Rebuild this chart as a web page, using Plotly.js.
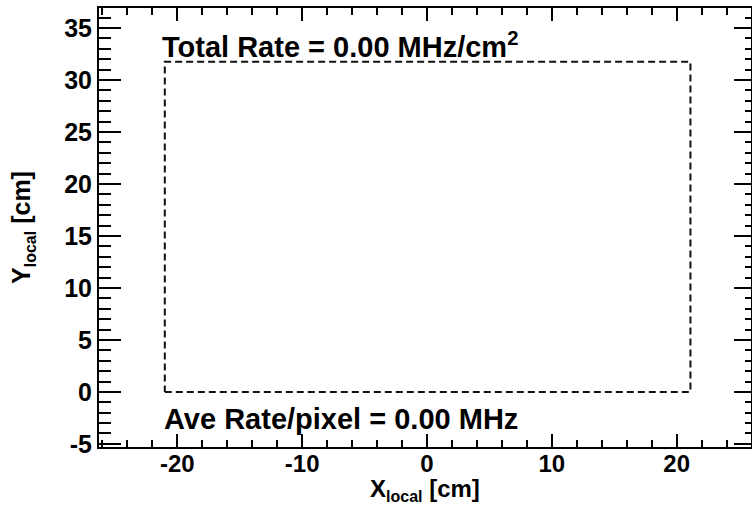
<!DOCTYPE html>
<html>
<head>
<meta charset="utf-8">
<script src="https://cdn.plot.ly/plotly-3.0.1.min.js"></script>
<style>html,body{margin:0;padding:0;background:#fff;}#chart{width:752px;height:506px;}</style>
</head>
<body>
<div id="chart"></div>
<script>
// Module outline (cm) in local coordinates
const moduleXEdges = [-21.0, 21.1];
const moduleYEdges = [0.0, 31.75];
// Axis ranges read from the frame
const xRange = [-26.27, 25.95];
const yRange = [-5.3, 36.93];
// Tick labels
const xTickVals = [-20, -10, 0, 10, 20];
const xTickText = ['-20', '-10', '0', '10', '20'];
const yTickVals = [-5, 0, 5, 10, 15, 20, 25, 30, 35];
const yTickText = ['-5', '0', '5', '10', '15', '20', '25', '30', '35'];
// Text values
const totalRate = "0.00";
const aveRatePixel = "0.00";

const outlineX = [moduleXEdges[0], moduleXEdges[1], moduleXEdges[1], moduleXEdges[0], moduleXEdges[0]];
const outlineY = [moduleYEdges[0], moduleYEdges[0], moduleYEdges[1], moduleYEdges[1], moduleYEdges[0]];

const FAM = 'Liberation Sans, Arial, sans-serif';
const TICKFONT = {family: FAM, size: 25, color: '#000', weight: 'bold'};
const XTICKFONT = {family: FAM, size: 24, color: '#000', weight: 'bold'};
const TITLEFONT = {family: FAM, size: 25, color: '#000', weight: 'bold'};
const XTITLEFONT = {family: FAM, size: 24, color: '#000', weight: 'bold'};
const ANNFONT = {family: FAM, size: 29, color: '#000', weight: 'bold'};
const SUB = (s) => '<sub><span style="font-size:16px">' + s + '</span></sub>';

const traces = [{
  x: outlineX, y: outlineY, type: 'scatter', mode: 'lines',
  line: {color: '#111', width: 2, dash: '7px,4px'},
  hoverinfo: 'skip', showlegend: false
}, {
  x: [xRange[0]], y: [yRange[0]], yaxis: 'y2', type: 'scatter', mode: 'markers',
  marker: {opacity: 0}, hoverinfo: 'skip', showlegend: false
}];

const H = 506, MT = 8, MB = 59;
const plotH = H - MT - MB;

const layout = {
  width: 752, height: H,
  margin: {l: 99, r: 1, t: MT, b: MB},
  paper_bgcolor: '#fff', plot_bgcolor: '#fff',
  font: TICKFONT,
  showlegend: false,
  xaxis: {
    range: xRange, tickmode: 'array', tickvals: xTickVals, ticktext: xTickText,
    ticks: 'inside', ticklen: 13, tickwidth: 2, tickcolor: '#000',
    minor: {tickmode: 'linear', dtick: 2, tick0: 0, ticks: 'inside', ticklen: 7, tickwidth: 2, tickcolor: '#000'},
    showline: true, linewidth: 2, linecolor: '#000', mirror: 'ticks',
    showgrid: false, zeroline: false,
    tickfont: XTICKFONT, ticklabelstandoff: -6
  },
  yaxis: {
    range: yRange, tickmode: 'array', tickvals: yTickVals, ticktext: yTickText,
    ticks: 'inside', ticklen: 22, tickwidth: 2, tickcolor: '#000',
    minor: {tickmode: 'linear', dtick: 1, tick0: 0, ticks: 'inside', ticklen: 12, tickwidth: 2, tickcolor: '#000'},
    showline: true, linewidth: 2, linecolor: '#000', mirror: false,
    showgrid: false, zeroline: false,
    tickfont: TICKFONT,
    title: {text: 'Y' + SUB('local') + ' [cm]', font: TITLEFONT, standoff: 26}
  },
  yaxis2: {
    overlaying: 'y', side: 'right', range: yRange, tickmode: 'array', tickvals: yTickVals,
    ticks: 'inside', ticklen: 17, tickwidth: 2, tickcolor: '#000',
    minor: {tickmode: 'linear', dtick: 1, tick0: 0, ticks: 'inside', ticklen: 6, tickwidth: 2, tickcolor: '#000'},
    showline: true, linewidth: 2, linecolor: '#000',
    showticklabels: false, showgrid: false, zeroline: false
  },
  annotations: [{
    xref: 'paper', yref: 'paper', x: 0.094, y: 0.915, xanchor: 'left', yanchor: 'middle',
    text: 'Total Rate = ' + totalRate + ' MHz/cm<sup>2</sup>', showarrow: false, font: ANNFONT
  }, {
    xref: 'paper', yref: 'paper', x: 0.096, y: 0.063, xanchor: 'left', yanchor: 'middle',
    text: 'Ave Rate/pixel = ' + aveRatePixel + ' MHz', showarrow: false, font: ANNFONT
  }, {
    xref: 'paper', yref: 'paper', x: 0.5, y: -MB / plotH, xanchor: 'center', yanchor: 'bottom',
    borderpad: 0,
    text: 'X' + SUB('local') + ' [cm]', showarrow: false, font: XTITLEFONT
  }]
};

Plotly.newPlot('chart', traces, layout, {displayModeBar: false, staticPlot: true});
</script>
</body>
</html>
